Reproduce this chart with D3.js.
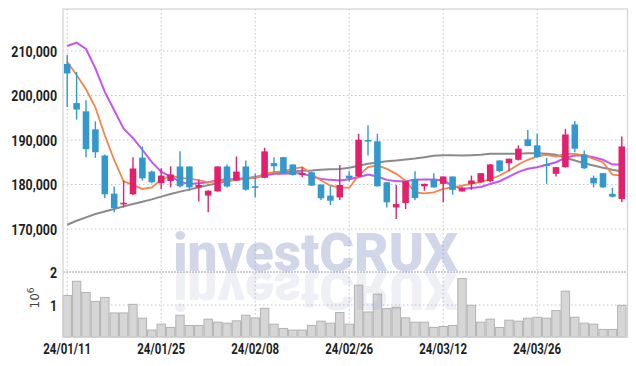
<!DOCTYPE html>
<html>
<head>
<meta charset="utf-8">
<script src="https://cdn.jsdelivr.net/npm/d3@7"></script>
<style>
  html, body { margin: 0; padding: 0; background: #fff; }
  svg { display: block; }
</style>
</head>
<body>
<svg id="chart" width="636" height="366"></svg>
<script>
// trading days shown on the x axis
const dates = [
  '24/01/11','24/01/12','24/01/15','24/01/16','24/01/17','24/01/18','24/01/19','24/01/22','24/01/23','24/01/24',
  '24/01/25','24/01/26','24/01/29','24/01/30','24/01/31','24/02/01','24/02/02','24/02/05','24/02/06','24/02/07',
  '24/02/08','24/02/13','24/02/14','24/02/15','24/02/16','24/02/19','24/02/20','24/02/21','24/02/22','24/02/23',
  '24/02/26','24/02/27','24/02/28','24/02/29','24/03/04','24/03/05','24/03/06','24/03/07','24/03/08','24/03/11',
  '24/03/12','24/03/13','24/03/14','24/03/15','24/03/18','24/03/19','24/03/20','24/03/21','24/03/22','24/03/25',
  '24/03/26','24/03/27','24/03/28','24/03/29','24/04/01','24/04/02','24/04/03','24/04/04','24/04/05','24/04/08'
];
const tickDates = ['24/01/11','24/01/25','24/02/08','24/02/26','24/03/12','24/03/26'];

const opens = [
  207100,198300,196450,192400,186500,177950,175750,177800,186050,182900,
  180300,180800,184050,184050,179350,177500,178450,184050,180900,184050,
  179600,181500,184800,186150,184500,182150,182750,180000,177500,177100,
  182000,181800,190000,189700,180500,174850,175850,181250,179600,181050,
  180150,181800,178450,180150,180500,180750,185400,184800,185550,190150,
  188800,184500,182400,183900,193500,186750,181500,182550,177900,176750
];
const highs = [
  209100,205300,198950,194200,186750,179550,180900,186150,188550,183150,
  183650,184100,187450,184050,181050,178700,184100,184500,186300,185400,
  182450,188250,186150,186200,184500,183900,182900,180000,179550,184400,
  183000,191400,193300,191400,180550,179900,180800,183000,180200,182550,
  181800,181800,179550,182000,182600,184600,185450,185800,188800,192250,
  191400,186000,183900,192500,194250,187650,182000,182600,179250,190800
];
const lows = [
  197400,194600,186150,186000,176950,173750,174850,177650,180900,180300,
  179000,179350,179350,178600,176200,173750,178400,179350,180800,178600,
  177150,181400,182750,182500,182000,181650,179700,176500,175400,176500,
  180700,181700,186500,179500,174850,172250,174500,176500,178600,179250,
  176000,177700,178400,178800,180400,180500,182800,183000,185400,188600,
  186000,180150,181800,183800,187250,183500,179350,179200,177100,176000
];
const closes = [
  204950,196850,187950,187250,177800,174700,175900,183600,181400,180500,
  182000,182250,179600,179350,179900,178600,184050,179550,182900,178850,
  179500,187450,184100,182600,182150,182550,179750,176900,176350,179900,
  181400,190050,189850,179600,176000,175600,180750,176950,180150,179350,
  181800,178800,179250,180900,182550,184500,183000,185800,188050,188650,
  186150,184350,183900,191250,188050,183650,180250,179350,177250,188550
];
const volumes = [
  1290000,1720000,1380000,1110000,1230000, 760000, 760000,1020000, 600000, 240000,
   420000, 320000, 690000, 380000, 380000, 570000, 480000, 450000, 520000, 690000,
   610000, 900000, 420000, 290000, 240000, 240000, 380000, 510000, 450000, 770000,
   420000,1600000, 790000,1330000, 890000, 930000, 610000, 480000, 480000, 320000,
   350000, 380000,1800000, 990000, 480000, 570000, 320000, 540000, 510000, 600000,
   630000, 600000, 830000,1420000, 630000, 450000, 420000, 260000, 260000, 990000
];

// moving averages (they include days before the window)
const ma5 = [
  207600,204600,201400,197300,191000,185500,180700,179900,179000,179350,
  181100,182000,181500,181300,181000,180500,180880,181040,181040,181260,
  181490,182390,182760,182990,183520,183890,182390,180880,179750,179370,
  179230,182010,183890,184270,183520,182390,180880,178240,178020,178240,
  179020,179370,179750,180130,180600,181180,182010,183140,184490,185550,
  186300,186670,186300,186900,186900,186520,185780,185010,182240,182010
];
const ma10 = [
  211130,211870,210450,206090,200820,196680,192550,190430,187810,185010,
  182900,181780,180590,180130,180270,180500,180880,181180,181260,181400,
  181490,182010,182390,182390,182540,182540,181780,181260,181040,180880,
  181180,181630,182240,181780,181040,180730,180730,181040,181110,181110,
  180880,179750,179020,179230,179450,180130,180730,181780,182840,183520,
  183890,184420,185010,186000,186520,186520,186140,185550,184490,184490
];
const ma60 = [
  170950,171850,172600,173360,173950,174490,175080,175620,176140,176660,
  177270,177880,178400,178850,179370,179860,180300,180730,181110,181400,
  181670,182130,182540,182760,182910,183070,183140,183300,183430,183510,
  183750,184200,184650,184940,185240,185400,185620,185850,186140,186450,
  186590,186590,186520,186590,186700,186900,186900,186900,186900,187050,
  187050,186900,186680,186000,185400,184790,184270,183750,183300,182910
];

const priceTicks = [170000, 180000, 190000, 200000, 210000];
const volumeTicks = [1, 2];

const UP = '#e2206b', DOWN = '#3399cc';
const gridColor = '#bfc3d6';

const svg = d3.select('#chart');
const plot = { left: 63, right: 627.5, top: 9, bottom: 337 };

const x = d3.scaleBand().domain(dates).range([62.5, 626.5]).padding(0);
const cx = d => x(d) + x.bandwidth() / 2;
const y = d3.scaleLinear().domain([170000, 210000]).range([229, 51]);
const yv = d3.scaleLinear().domain([0, 2000000]).range([338, 272]);

svg.append('rect').attr('width', 636).attr('height', 366).attr('fill', '#fff');

// grid
const grid = svg.append('g');
grid.selectAll('.hg').data(priceTicks).join('line')
  .attr('x1', plot.left).attr('x2', plot.right)
  .attr('y1', d => y(d)).attr('y2', d => y(d))
  .attr('stroke', gridColor).attr('stroke-dasharray', '1.5,2.5');
grid.selectAll('.vg').data(tickDates).join('line')
  .attr('x1', d => cx(d)).attr('x2', d => cx(d))
  .attr('y1', plot.top).attr('y2', plot.bottom)
  .attr('stroke', gridColor).attr('stroke-dasharray', '1.5,2.5');
grid.append('line')
  .attr('x1', plot.left).attr('x2', plot.right)
  .attr('y1', yv(1000000)).attr('y2', yv(1000000))
  .attr('stroke', gridColor).attr('stroke-dasharray', '1.5,2.5');
grid.append('line')
  .attr('x1', plot.left).attr('x2', plot.right)
  .attr('y1', yv(2000000)).attr('y2', yv(2000000))
  .attr('stroke', '#a0a0a8').attr('stroke-dasharray', '2,1');

// volume bars
svg.append('g').selectAll('rect').data(dates).join('rect')
  .attr('x', d => x(d) + 0.5)
  .attr('width', x.bandwidth() - 1)
  .attr('y', (d, i) => yv(volumes[i]))
  .attr('height', (d, i) => plot.bottom - yv(volumes[i]))
  .attr('fill', '#d6d6d6')
  .attr('stroke', '#b2b2b2').attr('stroke-width', 1);

// moving average lines
const line = arr => d3.line().x((d, i) => cx(dates[i])).y(d => y(d))(arr);
svg.append('path').attr('d', line(ma60)).attr('fill', 'none')
  .attr('stroke', '#777').attr('stroke-opacity', 0.85).attr('stroke-width', 2);
svg.append('path').attr('d', line(ma10)).attr('fill', 'none')
  .attr('stroke', '#c455f0').attr('stroke-width', 2);
svg.append('path').attr('d', line(ma5)).attr('fill', 'none')
  .attr('stroke', '#f0864a').attr('stroke-width', 1.8);

// candles
const bodyW = x.bandwidth() * 0.7;
const candles = svg.append('g').selectAll('g').data(dates).join('g');
const colorOf = i => closes[i] >= opens[i] ? UP : DOWN;
candles.append('line')
  .attr('x1', d => cx(d)).attr('x2', d => cx(d))
  .attr('y1', (d, i) => y(highs[i])).attr('y2', (d, i) => y(lows[i]))
  .attr('stroke', (d, i) => colorOf(i)).attr('stroke-width', 1.4);
candles.append('rect')
  .attr('x', d => cx(d) - bodyW / 2)
  .attr('width', bodyW)
  .attr('y', (d, i) => y(Math.max(opens[i], closes[i])))
  .attr('height', (d, i) => Math.max(1.6, Math.abs(y(opens[i]) - y(closes[i]))))
  .attr('fill', (d, i) => colorOf(i));

// watermark with its reflection
const wm = svg.append('g').attr('pointer-events', 'none');
wm.append('text')
  .attr('x', 173).attr('y', 271)
  .attr('textLength', 285).attr('lengthAdjust', 'spacingAndGlyphs')
  .style('font-family', 'Roboto, sans-serif').style('font-weight', 900).style('font-size', '53px')
  .attr('fill', '#7887be').attr('fill-opacity', 0.34)
  .text('investCRUX');
wm.append('text')
  .attr('x', 173).attr('y', 271)
  .attr('transform', 'translate(0,543) scale(1,-1)')
  .attr('textLength', 285).attr('lengthAdjust', 'spacingAndGlyphs')
  .style('font-family', 'Roboto, sans-serif').style('font-weight', 900).style('font-size', '53px')
  .attr('fill', '#7887be').attr('fill-opacity', 0.15)
  .text('investCRUX');

// frame
svg.append('rect')
  .attr('x', plot.left).attr('y', plot.top)
  .attr('width', plot.right - plot.left).attr('height', plot.bottom - plot.top)
  .attr('fill', 'none').attr('stroke', '#d2d2d2').attr('stroke-width', 1.2);

// axis labels use a squeezed bold face, like the condensed font of the original
const labelStyle = sel => sel
  .style('font-family', 'Roboto, sans-serif').style('font-weight', 700)
  .style('font-size', '15.5px').attr('fill', '#1e1e1e');

// price axis labels
svg.append('g').selectAll('text').data(priceTicks).join('text')
  .attr('transform', d => `translate(57,${y(d)}) scale(0.8,1)`)
  .attr('dy', '0.36em').attr('text-anchor', 'end')
  .call(labelStyle)
  .text(d3.format(','));

// volume axis labels
svg.append('g').selectAll('text').data(volumeTicks).join('text')
  .attr('transform', d => `translate(57,${yv(d * 1e6)}) scale(0.8,1)`)
  .attr('dy', '0.36em').attr('text-anchor', 'end')
  .call(labelStyle)
  .text(d => d);
const unit = svg.append('text')
  .attr('transform', 'translate(39,298) rotate(-90)')
  .attr('text-anchor', 'middle')
  .style('font-family', 'DejaVu Sans, sans-serif').style('font-size', '12px')
  .attr('fill', '#444');
unit.append('tspan').text('10');
unit.append('tspan').attr('dy', '-5').style('font-size', '9px').text('6');

// date labels
svg.append('g').selectAll('text').data(tickDates).join('text')
  .attr('transform', d => `translate(${cx(d)},354) scale(0.74,1)`)
  .attr('text-anchor', 'middle')
  .call(labelStyle)
  .text(d => d);
</script>
</body>
</html>
